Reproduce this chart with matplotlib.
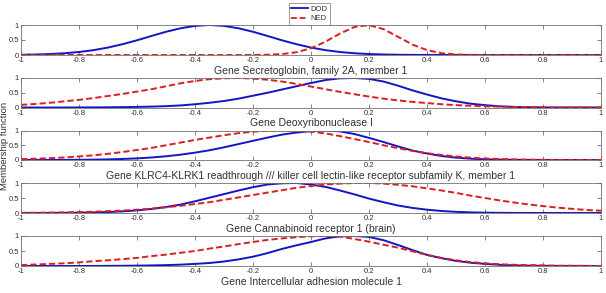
import numpy as np
import matplotlib
matplotlib.use("Agg")
import matplotlib.pyplot as plt
from matplotlib.lines import Line2D

plt.rcParams['font.family'] = ['Liberation Sans', 'DejaVu Sans']

x = np.round(np.arange(-1, 1.0001, 0.05), 2)

titles = [
    "Gene Secretoglobin, family 2A, member 1",
    "Gene Deoxyribonuclease I",
    "Gene KLRC4-KLRK1 readthrough /// killer cell lectin-like receptor subfamily K, member 1",
    "Gene Cannabinoid receptor 1 (brain)",
    "Gene Intercellular adhesion molecule 1",
]

dod1 = [0.008, 0.017, 0.032, 0.058, 0.10, 0.162, 0.248, 0.36, 0.49, 0.635, 0.774, 0.89, 0.97, 1.0,
        0.97, 0.89, 0.774, 0.635, 0.49, 0.36, 0.248, 0.162, 0.10, 0.058, 0.032, 0.017, 0.008, 0.004,
        0.002, 0.001, 0, 0, 0, 0, 0, 0, 0, 0, 0, 0, 0]
ned1 = [0, 0, 0, 0, 0, 0, 0, 0, 0, 0, 0, 0, 0, 0, 0, 0.0, 0.002, 0.008, 0.031, 0.093, 0.225, 0.445,
        0.715, 0.936, 0.996, 0.862, 0.607, 0.347, 0.162, 0.061, 0.019, 0.005, 0.001, 0, 0, 0, 0, 0, 0, 0, 0]

dod2 = [0, 0, 0, 0, 0.002, 0.004, 0.007, 0.012, 0.02, 0.03, 0.045, 0.07, 0.11, 0.16, 0.22, 0.3, 0.4,
        0.5, 0.61, 0.72, 0.83, 0.93, 0.99, 1.0, 0.97, 0.88, 0.74, 0.58, 0.44, 0.31, 0.21, 0.13, 0.08,
        0.04, 0.02, 0.01, 0.004, 0.001, 0, 0, 0]
ned2 = [0.09, 0.12, 0.16, 0.21, 0.26, 0.32, 0.39, 0.46, 0.54, 0.62, 0.72, 0.82, 0.9, 0.96, 0.99, 1.0,
        0.98, 0.94, 0.88, 0.8, 0.71, 0.62, 0.53, 0.45, 0.37, 0.3, 0.24, 0.19, 0.15, 0.11, 0.08, 0.06,
        0.04, 0.03, 0.02, 0.01, 0.005, 0, 0, 0, 0]

dod3 = [0.0005, 0.001, 0.002, 0.004, 0.007, 0.012, 0.021, 0.035, 0.055, 0.085, 0.126, 0.18, 0.25,
        0.33, 0.43, 0.54, 0.65, 0.76, 0.86, 0.93, 0.98, 1.0, 0.97, 0.88, 0.75, 0.61, 0.46, 0.32, 0.22,
        0.135, 0.08, 0.044, 0.023, 0.011, 0.005, 0.002, 0.001, 0, 0, 0, 0]
ned3 = [0.03, 0.043, 0.062, 0.087, 0.12, 0.16, 0.21, 0.27, 0.34, 0.41, 0.50, 0.59, 0.68, 0.76, 0.84,
        0.91, 0.96, 0.99, 1.0, 0.99, 0.96, 0.90, 0.81, 0.71, 0.61, 0.50, 0.40, 0.31, 0.23, 0.17, 0.12,
        0.08, 0.05, 0.034, 0.021, 0.012, 0.007, 0.004, 0.002, 0.001, 0.0]

dod4 = [0.0006, 0.001, 0.0025, 0.005, 0.01, 0.018, 0.032, 0.054, 0.087, 0.135, 0.20, 0.28, 0.39, 0.51,
        0.63, 0.75, 0.86, 0.95, 0.99, 1.0, 0.95, 0.87, 0.75, 0.62, 0.48, 0.36, 0.25, 0.17, 0.11, 0.067,
        0.039, 0.021, 0.011, 0.006, 0.003, 0.001, 0, 0, 0, 0, 0]
ned4 = [0.006, 0.009, 0.014, 0.021, 0.03, 0.043, 0.06, 0.08, 0.11, 0.145, 0.19, 0.24, 0.30, 0.36, 0.44,
        0.52, 0.60, 0.68, 0.76, 0.84, 0.90, 0.95, 0.98, 1.0, 1.0, 0.98, 0.94, 0.89, 0.82, 0.75, 0.67,
        0.58, 0.50, 0.42, 0.35, 0.285, 0.23, 0.18, 0.14, 0.10, 0.077]

dod5 = [0, 0, 0, 0, 0.001, 0.002, 0.004, 0.007, 0.012, 0.02, 0.03, 0.045, 0.07, 0.1, 0.15, 0.22, 0.31,
        0.43, 0.57, 0.69, 0.8, 0.92, 0.99, 1.0, 0.97, 0.86, 0.7, 0.53, 0.37, 0.26, 0.17, 0.11, 0.07,
        0.04, 0.02, 0.01, 0.005, 0.002, 0, 0, 0]
ned5 = [0.03, 0.05, 0.07, 0.09, 0.12, 0.16, 0.19, 0.23, 0.27, 0.33, 0.38, 0.44, 0.5, 0.58, 0.65, 0.73,
        0.8, 0.87, 0.92, 0.96, 0.99, 1.0, 0.98, 0.9, 0.81, 0.71, 0.61, 0.49, 0.37, 0.27, 0.19, 0.13,
        0.09, 0.06, 0.04, 0.03, 0.02, 0.01, 0.01, 0.005, 0]

dod_series = [dod1, dod2, dod3, dod4, dod5]
ned_series = [ned1, ned2, ned3, ned4, ned5]

xticks = [-1, -0.8, -0.6, -0.4, -0.2, 0, 0.2, 0.4, 0.6, 0.8, 1]
xticklabels = ["-1", "-0.8", "-0.6", "-0.4", "-0.2", "0", "0.2", "0.4", "0.6", "0.8", "1"]
yticks = [0, 0.5, 1]
yticklabels = ["0", "0.5", "1"]

W, H = 606, 293
fig = plt.figure(figsize=(W / 100, H / 100), dpi=100)

panels_px = [(25, 55), (78, 107.5), (130.5, 160), (183, 213), (236, 266)]
left_px, right_px = 21, 601
blue = '#1414c8'
red = '#e01c1c'
axcol = '#707070'
txtcol = '#303030'

for i, (top, bot) in enumerate(panels_px):
    ax = fig.add_axes([left_px / W, 1 - bot / H, (right_px - left_px) / W, (bot - top) / H])
    ax.plot(x, dod_series[i], color=blue, lw=1.4, solid_capstyle='round')
    ax.plot(x, ned_series[i], color=red, lw=1.4, linestyle=(0, (3.2, 1.6)))
    ax.set_xlim(-1, 1)
    ax.set_ylim(0, 1)
    ax.set_xticks(xticks)
    ax.set_xticklabels(xticklabels)
    ax.set_yticks(yticks)
    ax.set_yticklabels(yticklabels)
    ax.tick_params(direction='in', length=3, width=0.6, top=True, right=True,
                   labelsize=5.5, colors=axcol, labelcolor=txtcol, pad=1.5)
    for s in ax.spines.values():
        s.set_color(axcol)
        s.set_linewidth(0.6)
    ax.set_facecolor('white')
    fig.text(((left_px + right_px) / 2) / W, 1 - (bot + 16) / H, titles[i],
             ha='center', va='center', fontsize=7.5, color=txtcol)

fig.text(4.2 / W, 1 - 145.5 / H, "Membership function", rotation=90, ha='center', va='center',
         fontsize=6.8, color=txtcol)

handles = [Line2D([], [], color=blue, lw=1.3),
           Line2D([], [], color=red, lw=1.3, linestyle=(0, (3.2, 1.6)))]
leg = fig.legend(handles, ["DOD", "NED"], loc='upper left', bbox_to_anchor=(289 / W, 1 - 3 / H),
                 bbox_transform=fig.transFigure, fontsize=5.5, frameon=True, fancybox=False,
                 borderaxespad=0, handlelength=2.2, handletextpad=0.3, borderpad=0.3,
                 labelspacing=0.3, edgecolor=axcol)
leg.get_frame().set_linewidth(0.6)
for t in leg.get_texts():
    t.set_color(txtcol)

fig.savefig("out.png", dpi=100, facecolor='white')
